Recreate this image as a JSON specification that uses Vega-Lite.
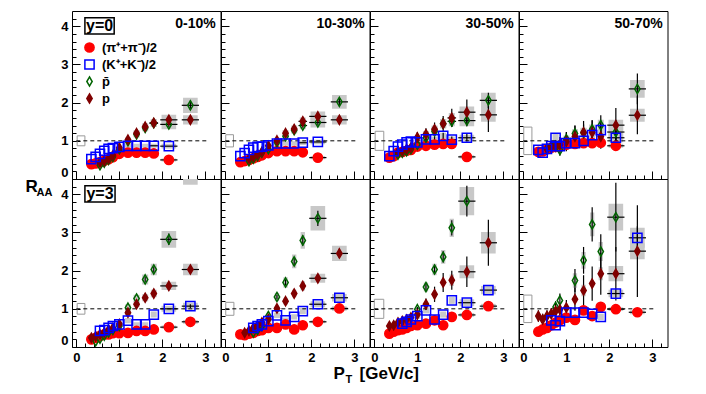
{
"$schema":"https://vega.github.io/schema/vega-lite/v6.json",
"padding":{"left":24,"top":10,"right":5,"bottom":5},
"background":"white",
"config":{"view":{"stroke":"black","strokeWidth":1},"axis":{"labelFont":"Liberation Sans","labelFontWeight":"bold","labelFontSize":13,"labelColor":"black","tickColor":"black","domainColor":"black","titleFont":"Liberation Sans","titleFontWeight":"bold","titleColor":"black","grid":false,"tickWidth":1},"font":"Liberation Sans"},
"datasets":{
"norm":[
{"r":0,"c":0,"xl":0.02,"xh":0.2,"yl":0.87,"yh":1.13},
{"r":0,"c":1,"xl":0.01,"xh":0.19,"yl":0.84,"yh":1.16},
{"r":0,"c":2,"xl":0.02,"xh":0.22,"yl":0.75,"yh":1.25},
{"r":0,"c":3,"xl":0.01,"xh":0.2,"yl":0.64,"yh":1.36},
{"r":1,"c":0,"xl":0.02,"xh":0.2,"yl":0.86,"yh":1.14},
{"r":1,"c":1,"xl":0.01,"xh":0.2,"yl":0.83,"yh":1.17},
{"r":1,"c":2,"xl":0.0,"xh":0.22,"yl":0.75,"yh":1.25},
{"r":1,"c":3,"xl":0.01,"xh":0.2,"yl":0.64,"yh":1.36}
],
"pts":[
{"r":0,"c":0,"s":"pi","x":0.35,"y":0.39},
{"r":0,"c":0,"s":"pi","x":0.45,"y":0.41},
{"r":0,"c":0,"s":"pi","x":0.55,"y":0.44},
{"r":0,"c":0,"s":"pi","x":0.65,"y":0.48},
{"r":0,"c":0,"s":"pi","x":0.75,"y":0.52},
{"r":0,"c":0,"s":"pi","x":0.85,"y":0.57},
{"r":0,"c":0,"s":"pi","x":1.0,"y":0.66},
{"r":0,"c":0,"s":"pi","x":1.2,"y":0.69},
{"r":0,"c":0,"s":"pi","x":1.4,"y":0.69},
{"r":0,"c":0,"s":"pi","x":1.6,"y":0.69},
{"r":0,"c":0,"s":"pi","x":1.8,"y":0.67,"ex":0.1},
{"r":0,"c":0,"s":"pi","x":2.15,"y":0.5,"ex":0.2,"ey":0.03,"xl":1.98,"xh":2.32,"yl":0.46,"yh":0.54},
{"r":0,"c":0,"s":"pbar","x":0.55,"y":0.36},
{"r":0,"c":0,"s":"pbar","x":0.65,"y":0.43},
{"r":0,"c":0,"s":"pbar","x":0.75,"y":0.5},
{"r":0,"c":0,"s":"pbar","x":0.85,"y":0.58},
{"r":0,"c":0,"s":"pbar","x":1.0,"y":0.78},
{"r":0,"c":0,"s":"pbar","x":1.2,"y":0.99,"xl":1.13,"xh":1.27,"yl":0.93,"yh":1.05},
{"r":0,"c":0,"s":"pbar","x":1.4,"y":1.17,"ey":0.04,"xl":1.33,"xh":1.47,"yl":1.09,"yh":1.25},
{"r":0,"c":0,"s":"pbar","x":1.6,"y":1.34,"ey":0.05,"xl":1.53,"xh":1.67,"yl":1.25,"yh":1.43},
{"r":0,"c":0,"s":"pbar","x":1.8,"y":1.46,"ex":0.1,"ey":0.05,"xl":1.73,"xh":1.87,"yl":1.36,"yh":1.56},
{"r":0,"c":0,"s":"pbar","x":2.15,"y":1.43,"ex":0.2,"ey":0.07,"xl":1.98,"xh":2.32,"yl":1.3,"yh":1.56},
{"r":0,"c":0,"s":"pbar","x":2.65,"y":1.93,"ex":0.2,"ey":0.12,"xl":2.48,"xh":2.82,"yl":1.73,"yh":2.13},
{"r":0,"c":0,"s":"p","x":0.55,"y":0.43},
{"r":0,"c":0,"s":"p","x":0.65,"y":0.47},
{"r":0,"c":0,"s":"p","x":0.75,"y":0.53},
{"r":0,"c":0,"s":"p","x":0.85,"y":0.62},
{"r":0,"c":0,"s":"p","x":1.0,"y":0.82},
{"r":0,"c":0,"s":"p","x":1.2,"y":1.03,"xl":1.13,"xh":1.27,"yl":0.97,"yh":1.09},
{"r":0,"c":0,"s":"p","x":1.4,"y":1.2,"ey":0.04,"xl":1.33,"xh":1.47,"yl":1.12,"yh":1.28},
{"r":0,"c":0,"s":"p","x":1.6,"y":1.37,"ey":0.05,"xl":1.53,"xh":1.67,"yl":1.28,"yh":1.46},
{"r":0,"c":0,"s":"p","x":1.8,"y":1.47,"ex":0.1,"ey":0.05,"xl":1.73,"xh":1.87,"yl":1.37,"yh":1.57},
{"r":0,"c":0,"s":"p","x":2.15,"y":1.55,"ex":0.2,"ey":0.07,"xl":1.98,"xh":2.32,"yl":1.42,"yh":1.68},
{"r":0,"c":0,"s":"p","x":2.65,"y":1.55,"ex":0.2,"ey":0.08,"xl":2.48,"xh":2.82,"yl":1.43,"yh":1.67},
{"r":0,"c":0,"s":"K","x":0.35,"y":0.52},
{"r":0,"c":0,"s":"K","x":0.45,"y":0.58},
{"r":0,"c":0,"s":"K","x":0.55,"y":0.66},
{"r":0,"c":0,"s":"K","x":0.65,"y":0.74},
{"r":0,"c":0,"s":"K","x":0.75,"y":0.79},
{"r":0,"c":0,"s":"K","x":0.85,"y":0.81},
{"r":0,"c":0,"s":"K","x":1.0,"y":0.84},
{"r":0,"c":0,"s":"K","x":1.2,"y":0.87,"xl":1.13,"xh":1.27,"yl":0.82,"yh":0.92},
{"r":0,"c":0,"s":"K","x":1.4,"y":0.87,"xl":1.33,"xh":1.47,"yl":0.82,"yh":0.92},
{"r":0,"c":0,"s":"K","x":1.6,"y":0.87,"xl":1.53,"xh":1.67,"yl":0.82,"yh":0.92},
{"r":0,"c":0,"s":"K","x":1.8,"y":0.87,"ex":0.1,"xl":1.73,"xh":1.87,"yl":0.82,"yh":0.92},
{"r":0,"c":0,"s":"K","x":2.15,"y":0.86,"ex":0.2,"xl":1.98,"xh":2.32,"yl":0.8,"yh":0.92},

{"r":0,"c":1,"s":"pi","x":0.35,"y":0.44},
{"r":0,"c":1,"s":"pi","x":0.45,"y":0.47},
{"r":0,"c":1,"s":"pi","x":0.55,"y":0.5},
{"r":0,"c":1,"s":"pi","x":0.65,"y":0.54},
{"r":0,"c":1,"s":"pi","x":0.75,"y":0.58},
{"r":0,"c":1,"s":"pi","x":0.85,"y":0.62},
{"r":0,"c":1,"s":"pi","x":1.0,"y":0.68},
{"r":0,"c":1,"s":"pi","x":1.2,"y":0.73},
{"r":0,"c":1,"s":"pi","x":1.4,"y":0.73},
{"r":0,"c":1,"s":"pi","x":1.6,"y":0.73},
{"r":0,"c":1,"s":"pi","x":1.8,"y":0.7,"ex":0.1},
{"r":0,"c":1,"s":"pi","x":2.15,"y":0.56,"ex":0.2,"ey":0.03,"xl":1.98,"xh":2.32,"yl":0.52,"yh":0.6},
{"r":0,"c":1,"s":"pbar","x":0.55,"y":0.47},
{"r":0,"c":1,"s":"pbar","x":0.65,"y":0.53},
{"r":0,"c":1,"s":"pbar","x":0.75,"y":0.6},
{"r":0,"c":1,"s":"pbar","x":0.85,"y":0.69},
{"r":0,"c":1,"s":"pbar","x":1.0,"y":0.78},
{"r":0,"c":1,"s":"pbar","x":1.2,"y":0.96,"xl":1.13,"xh":1.27,"yl":0.89,"yh":1.03},
{"r":0,"c":1,"s":"pbar","x":1.4,"y":1.12,"ey":0.04,"xl":1.33,"xh":1.47,"yl":1.04,"yh":1.2},
{"r":0,"c":1,"s":"pbar","x":1.6,"y":1.28,"ey":0.05,"xl":1.53,"xh":1.67,"yl":1.19,"yh":1.37},
{"r":0,"c":1,"s":"pbar","x":1.8,"y":1.4,"ex":0.1,"ey":0.06,"xl":1.73,"xh":1.87,"yl":1.3,"yh":1.5},
{"r":0,"c":1,"s":"pbar","x":2.15,"y":1.48,"ex":0.2,"ey":0.07,"xl":1.98,"xh":2.32,"yl":1.35,"yh":1.61},
{"r":0,"c":1,"s":"pbar","x":2.65,"y":2.02,"ex":0.2,"ey":0.1,"xl":2.48,"xh":2.82,"yl":1.84,"yh":2.2},
{"r":0,"c":1,"s":"p","x":0.55,"y":0.53},
{"r":0,"c":1,"s":"p","x":0.65,"y":0.58},
{"r":0,"c":1,"s":"p","x":0.75,"y":0.64},
{"r":0,"c":1,"s":"p","x":0.85,"y":0.71},
{"r":0,"c":1,"s":"p","x":1.0,"y":0.87},
{"r":0,"c":1,"s":"p","x":1.2,"y":1.01,"xl":1.13,"xh":1.27,"yl":0.94,"yh":1.08},
{"r":0,"c":1,"s":"p","x":1.4,"y":1.2,"ey":0.04,"xl":1.33,"xh":1.47,"yl":1.12,"yh":1.28},
{"r":0,"c":1,"s":"p","x":1.6,"y":1.31,"ey":0.05,"xl":1.53,"xh":1.67,"yl":1.22,"yh":1.4},
{"r":0,"c":1,"s":"p","x":1.8,"y":1.51,"ex":0.1,"ey":0.06,"xl":1.73,"xh":1.87,"yl":1.41,"yh":1.61},
{"r":0,"c":1,"s":"p","x":2.15,"y":1.64,"ex":0.2,"ey":0.08,"xl":1.98,"xh":2.32,"yl":1.51,"yh":1.77},
{"r":0,"c":1,"s":"p","x":2.65,"y":1.55,"ex":0.2,"ey":0.08,"xl":2.48,"xh":2.82,"yl":1.43,"yh":1.67},
{"r":0,"c":1,"s":"K","x":0.35,"y":0.6},
{"r":0,"c":1,"s":"K","x":0.45,"y":0.68},
{"r":0,"c":1,"s":"K","x":0.55,"y":0.76},
{"r":0,"c":1,"s":"K","x":0.65,"y":0.82},
{"r":0,"c":1,"s":"K","x":0.75,"y":0.84},
{"r":0,"c":1,"s":"K","x":0.85,"y":0.85},
{"r":0,"c":1,"s":"K","x":1.0,"y":0.88},
{"r":0,"c":1,"s":"K","x":1.2,"y":0.93,"xl":1.13,"xh":1.27,"yl":0.87,"yh":0.99},
{"r":0,"c":1,"s":"K","x":1.4,"y":0.93,"xl":1.33,"xh":1.47,"yl":0.87,"yh":0.99},
{"r":0,"c":1,"s":"K","x":1.6,"y":0.93,"xl":1.53,"xh":1.67,"yl":0.87,"yh":0.99},
{"r":0,"c":1,"s":"K","x":1.8,"y":0.95,"ex":0.1,"xl":1.73,"xh":1.87,"yl":0.89,"yh":1.01},
{"r":0,"c":1,"s":"K","x":2.15,"y":0.97,"ex":0.2,"xl":1.98,"xh":2.32,"yl":0.91,"yh":1.03},

{"r":0,"c":2,"s":"pi","x":0.35,"y":0.56},
{"r":0,"c":2,"s":"pi","x":0.45,"y":0.6},
{"r":0,"c":2,"s":"pi","x":0.55,"y":0.69},
{"r":0,"c":2,"s":"pi","x":0.65,"y":0.71},
{"r":0,"c":2,"s":"pi","x":0.75,"y":0.74},
{"r":0,"c":2,"s":"pi","x":0.85,"y":0.76},
{"r":0,"c":2,"s":"pi","x":1.0,"y":0.85},
{"r":0,"c":2,"s":"pi","x":1.2,"y":0.87},
{"r":0,"c":2,"s":"pi","x":1.4,"y":0.9},
{"r":0,"c":2,"s":"pi","x":1.6,"y":0.92},
{"r":0,"c":2,"s":"pi","x":1.8,"y":0.92,"ex":0.1},
{"r":0,"c":2,"s":"pi","x":2.15,"y":0.58,"ex":0.2,"ey":0.03,"xl":1.98,"xh":2.32,"yl":0.54,"yh":0.62},
{"r":0,"c":2,"s":"pbar","x":0.55,"y":0.64},
{"r":0,"c":2,"s":"pbar","x":0.65,"y":0.69},
{"r":0,"c":2,"s":"pbar","x":0.75,"y":0.73},
{"r":0,"c":2,"s":"pbar","x":0.85,"y":0.78,"ey":0.05},
{"r":0,"c":2,"s":"pbar","x":1.0,"y":0.9,"ey":0.08},
{"r":0,"c":2,"s":"pbar","x":1.2,"y":1.08,"ey":0.1,"xl":1.13,"xh":1.27,"yl":1.0,"yh":1.16},
{"r":0,"c":2,"s":"pbar","x":1.4,"y":1.25,"ey":0.12,"xl":1.33,"xh":1.47,"yl":1.15,"yh":1.35},
{"r":0,"c":2,"s":"pbar","x":1.6,"y":1.45,"ey":0.14,"xl":1.53,"xh":1.67,"yl":1.33,"yh":1.57},
{"r":0,"c":2,"s":"pbar","x":1.8,"y":1.51,"ex":0.1,"ey":0.15,"xl":1.73,"xh":1.87,"yl":1.38,"yh":1.64},
{"r":0,"c":2,"s":"pbar","x":2.15,"y":1.53,"ex":0.2,"ey":0.15,"xl":1.98,"xh":2.32,"yl":1.38,"yh":1.68},
{"r":0,"c":2,"s":"pbar","x":2.65,"y":2.06,"ex":0.2,"ey":0.2,"xl":2.48,"xh":2.82,"yl":1.86,"yh":2.26},
{"r":0,"c":2,"s":"p","x":0.55,"y":0.71,"ey":0.05},
{"r":0,"c":2,"s":"p","x":0.65,"y":0.73,"ey":0.06},
{"r":0,"c":2,"s":"p","x":0.75,"y":0.78,"ey":0.07},
{"r":0,"c":2,"s":"p","x":0.85,"y":0.82,"ey":0.08},
{"r":0,"c":2,"s":"p","x":1.0,"y":1.09,"ey":0.14},
{"r":0,"c":2,"s":"p","x":1.2,"y":1.17,"ey":0.16,"xl":1.13,"xh":1.27,"yl":1.08,"yh":1.26},
{"r":0,"c":2,"s":"p","x":1.4,"y":1.3,"ey":0.18,"xl":1.33,"xh":1.47,"yl":1.2,"yh":1.4},
{"r":0,"c":2,"s":"p","x":1.6,"y":1.45,"ey":0.2,"xl":1.53,"xh":1.67,"yl":1.33,"yh":1.57},
{"r":0,"c":2,"s":"p","x":1.8,"y":1.6,"ex":0.1,"ey":0.24,"xl":1.73,"xh":1.87,"yl":1.47,"yh":1.73},
{"r":0,"c":2,"s":"p","x":2.15,"y":1.75,"ex":0.2,"ey":0.33,"xl":1.98,"xh":2.32,"yl":1.6,"yh":1.9},
{"r":0,"c":2,"s":"p","x":2.65,"y":1.68,"ex":0.2,"ey":0.45,"xl":2.48,"xh":2.82,"yl":1.5,"yh":1.86},
{"r":0,"c":2,"s":"K","x":0.35,"y":0.6},
{"r":0,"c":2,"s":"K","x":0.45,"y":0.73},
{"r":0,"c":2,"s":"K","x":0.55,"y":0.85},
{"r":0,"c":2,"s":"K","x":0.65,"y":0.9},
{"r":0,"c":2,"s":"K","x":0.75,"y":0.96},
{"r":0,"c":2,"s":"K","x":0.85,"y":0.98},
{"r":0,"c":2,"s":"K","x":1.0,"y":0.96,"ey":0.05},
{"r":0,"c":2,"s":"K","x":1.2,"y":1.04,"ey":0.06,"xl":1.13,"xh":1.27,"yl":0.97,"yh":1.11},
{"r":0,"c":2,"s":"K","x":1.4,"y":1.04,"ey":0.07,"xl":1.33,"xh":1.47,"yl":0.97,"yh":1.11},
{"r":0,"c":2,"s":"K","x":1.6,"y":1.13,"ey":0.08,"xl":1.53,"xh":1.67,"yl":1.05,"yh":1.21},
{"r":0,"c":2,"s":"K","x":1.8,"y":1.03,"ex":0.1,"ey":0.08,"xl":1.73,"xh":1.87,"yl":0.95,"yh":1.11},
{"r":0,"c":2,"s":"K","x":2.15,"y":1.08,"ex":0.2,"ey":0.1,"xl":1.98,"xh":2.32,"yl":1.0,"yh":1.16},

{"r":0,"c":3,"s":"pi","x":0.35,"y":0.71,"ey":0.04},
{"r":0,"c":3,"s":"pi","x":0.45,"y":0.72,"ey":0.04},
{"r":0,"c":3,"s":"pi","x":0.55,"y":0.78},
{"r":0,"c":3,"s":"pi","x":0.65,"y":0.82},
{"r":0,"c":3,"s":"pi","x":0.75,"y":0.84},
{"r":0,"c":3,"s":"pi","x":0.85,"y":0.86},
{"r":0,"c":3,"s":"pi","x":1.0,"y":0.9},
{"r":0,"c":3,"s":"pi","x":1.2,"y":0.92},
{"r":0,"c":3,"s":"pi","x":1.4,"y":0.94},
{"r":0,"c":3,"s":"pi","x":1.6,"y":0.94},
{"r":0,"c":3,"s":"pi","x":1.8,"y":0.95,"ex":0.1},
{"r":0,"c":3,"s":"pi","x":2.15,"y":0.87,"ex":0.2,"ey":0.04,"xl":1.98,"xh":2.32,"yl":0.82,"yh":0.92},
{"r":0,"c":3,"s":"pbar","x":0.55,"y":0.79,"ey":0.1},
{"r":0,"c":3,"s":"pbar","x":0.65,"y":0.86,"ey":0.12},
{"r":0,"c":3,"s":"pbar","x":0.75,"y":0.87,"ey":0.13},
{"r":0,"c":3,"s":"pbar","x":0.85,"y":0.76,"ey":0.15},
{"r":0,"c":3,"s":"pbar","x":1.0,"y":1.04,"ey":0.18,"xl":0.93,"xh":1.07,"yl":0.94,"yh":1.14},
{"r":0,"c":3,"s":"pbar","x":1.2,"y":1.19,"ey":0.2,"xl":1.13,"xh":1.27,"yl":1.08,"yh":1.3},
{"r":0,"c":3,"s":"pbar","x":1.4,"y":1.21,"ey":0.22,"xl":1.33,"xh":1.47,"yl":1.09,"yh":1.33},
{"r":0,"c":3,"s":"pbar","x":1.6,"y":1.3,"ey":0.24,"xl":1.53,"xh":1.67,"yl":1.17,"yh":1.43},
{"r":0,"c":3,"s":"pbar","x":1.8,"y":1.41,"ey":0.26,"xl":1.73,"xh":1.87,"yl":1.27,"yh":1.55},
{"r":0,"c":3,"s":"pbar","x":2.15,"y":1.23,"ex":0.2,"ey":0.3,"xl":1.98,"xh":2.32,"yl":1.08,"yh":1.38},
{"r":0,"c":3,"s":"pbar","x":2.65,"y":2.36,"ex":0.2,"ey":0.4,"xl":2.48,"xh":2.82,"yl":2.13,"yh":2.59},
{"r":0,"c":3,"s":"p","x":0.55,"y":0.79,"ey":0.12},
{"r":0,"c":3,"s":"p","x":0.65,"y":0.82,"ey":0.14},
{"r":0,"c":3,"s":"p","x":0.75,"y":0.86,"ey":0.16},
{"r":0,"c":3,"s":"p","x":0.85,"y":0.9,"ey":0.2},
{"r":0,"c":3,"s":"p","x":1.0,"y":0.98,"ey":0.25},
{"r":0,"c":3,"s":"p","x":1.2,"y":1.11,"ey":0.3,"xl":1.13,"xh":1.27,"yl":1.0,"yh":1.22},
{"r":0,"c":3,"s":"p","x":1.4,"y":1.22,"ey":0.3,"xl":1.33,"xh":1.47,"yl":1.1,"yh":1.34},
{"r":0,"c":3,"s":"p","x":1.6,"y":1.22,"ey":0.32,"xl":1.53,"xh":1.67,"yl":1.1,"yh":1.34},
{"r":0,"c":3,"s":"p","x":1.8,"y":1.11,"ey":0.32,"xl":1.73,"xh":1.87,"yl":1.0,"yh":1.22},
{"r":0,"c":3,"s":"p","x":2.15,"y":1.41,"ex":0.2,"ey":0.45,"xl":1.98,"xh":2.32,"yl":1.27,"yh":1.55},
{"r":0,"c":3,"s":"p","x":2.65,"y":1.67,"ex":0.2,"ey":0.5,"xl":2.48,"xh":2.82,"yl":1.5,"yh":1.84},
{"r":0,"c":3,"s":"K","x":0.35,"y":0.76,"xl":0.28,"xh":0.42,"yl":0.68,"yh":0.84},
{"r":0,"c":3,"s":"K","x":0.45,"y":0.69,"xl":0.38,"xh":0.52,"yl":0.62,"yh":0.76},
{"r":0,"c":3,"s":"K","x":0.55,"y":0.79},
{"r":0,"c":3,"s":"K","x":0.65,"y":0.86},
{"r":0,"c":3,"s":"K","x":0.75,"y":1.08,"xl":0.68,"xh":0.82,"yl":0.98,"yh":1.18},
{"r":0,"c":3,"s":"K","x":0.85,"y":0.86},
{"r":0,"c":3,"s":"K","x":1.0,"y":0.94,"ey":0.1,"xl":0.93,"xh":1.07,"yl":0.86,"yh":1.02},
{"r":0,"c":3,"s":"K","x":1.2,"y":0.94,"ey":0.12,"xl":1.13,"xh":1.27,"yl":0.86,"yh":1.02},
{"r":0,"c":3,"s":"K","x":1.4,"y":1.0,"ey":0.13,"xl":1.33,"xh":1.47,"yl":0.91,"yh":1.09},
{"r":0,"c":3,"s":"K","x":1.6,"y":1.15,"ey":0.15,"xl":1.53,"xh":1.67,"yl":1.05,"yh":1.25},
{"r":0,"c":3,"s":"K","x":1.8,"y":1.28,"ey":0.18,"xl":1.73,"xh":1.87,"yl":1.17,"yh":1.39},
{"r":0,"c":3,"s":"K","x":2.15,"y":1.08,"ex":0.2,"ey":0.2,"xl":1.98,"xh":2.32,"yl":0.96,"yh":1.2},

{"r":1,"c":0,"s":"pi","x":0.35,"y":0.2},
{"r":1,"c":0,"s":"pi","x":0.45,"y":0.24},
{"r":1,"c":0,"s":"pi","x":0.55,"y":0.29},
{"r":1,"c":0,"s":"pi","x":0.65,"y":0.33},
{"r":1,"c":0,"s":"pi","x":0.75,"y":0.33},
{"r":1,"c":0,"s":"pi","x":0.85,"y":0.36},
{"r":1,"c":0,"s":"pi","x":1.0,"y":0.36},
{"r":1,"c":0,"s":"pi","x":1.2,"y":0.37},
{"r":1,"c":0,"s":"pi","x":1.4,"y":0.42},
{"r":1,"c":0,"s":"pi","x":1.6,"y":0.42},
{"r":1,"c":0,"s":"pi","x":1.8,"y":0.46},
{"r":1,"c":0,"s":"pi","x":2.15,"y":0.52,"ex":0.2,"xl":1.98,"xh":2.32,"yl":0.48,"yh":0.56},
{"r":1,"c":0,"s":"pi","x":2.65,"y":0.66,"ex":0.2,"xl":2.48,"xh":2.82,"yl":0.61,"yh":0.71},
{"r":1,"c":0,"s":"pbar","x":0.45,"y":0.15},
{"r":1,"c":0,"s":"pbar","x":0.55,"y":0.22},
{"r":1,"c":0,"s":"pbar","x":0.65,"y":0.3},
{"r":1,"c":0,"s":"pbar","x":0.75,"y":0.38},
{"r":1,"c":0,"s":"pbar","x":0.85,"y":0.45},
{"r":1,"c":0,"s":"pbar","x":1.0,"y":0.55},
{"r":1,"c":0,"s":"pbar","x":1.2,"y":1.03,"xl":1.13,"xh":1.27,"yl":0.95,"yh":1.11},
{"r":1,"c":0,"s":"pbar","x":1.4,"y":1.27,"xl":1.33,"xh":1.47,"yl":1.17,"yh":1.37},
{"r":1,"c":0,"s":"pbar","x":1.6,"y":1.77,"ey":0.07,"xl":1.53,"xh":1.67,"yl":1.64,"yh":1.9},
{"r":1,"c":0,"s":"pbar","x":1.8,"y":2.03,"ey":0.08,"xl":1.73,"xh":1.87,"yl":1.88,"yh":2.18},
{"r":1,"c":0,"s":"pbar","x":2.15,"y":2.82,"ex":0.2,"ey":0.15,"xl":1.98,"xh":2.32,"yl":2.6,"yh":3.04},
{"r":1,"c":0,"s":"pbar","x":2.65,"y":4.6,"xl":2.48,"xh":2.82,"yl":4.25,"yh":4.95},
{"r":1,"c":0,"s":"p","x":0.35,"y":0.24},
{"r":1,"c":0,"s":"p","x":0.45,"y":0.28},
{"r":1,"c":0,"s":"p","x":0.55,"y":0.33},
{"r":1,"c":0,"s":"p","x":0.65,"y":0.38},
{"r":1,"c":0,"s":"p","x":0.75,"y":0.45},
{"r":1,"c":0,"s":"p","x":0.85,"y":0.5},
{"r":1,"c":0,"s":"p","x":1.0,"y":0.6},
{"r":1,"c":0,"s":"p","x":1.2,"y":0.9,"xl":1.13,"xh":1.27,"yl":0.83,"yh":0.97},
{"r":1,"c":0,"s":"p","x":1.4,"y":1.12,"xl":1.33,"xh":1.47,"yl":1.04,"yh":1.2},
{"r":1,"c":0,"s":"p","x":1.6,"y":1.29,"ey":0.05,"xl":1.53,"xh":1.67,"yl":1.2,"yh":1.38},
{"r":1,"c":0,"s":"p","x":1.8,"y":1.4,"ey":0.05,"xl":1.73,"xh":1.87,"yl":1.3,"yh":1.5},
{"r":1,"c":0,"s":"p","x":2.15,"y":1.6,"ex":0.2,"ey":0.06,"xl":1.98,"xh":2.32,"yl":1.49,"yh":1.71},
{"r":1,"c":0,"s":"p","x":2.65,"y":2.03,"ex":0.2,"ey":0.08,"xl":2.48,"xh":2.82,"yl":1.88,"yh":2.18},
{"r":1,"c":0,"s":"K","x":0.55,"y":0.42},
{"r":1,"c":0,"s":"K","x":0.65,"y":0.44},
{"r":1,"c":0,"s":"K","x":0.75,"y":0.5},
{"r":1,"c":0,"s":"K","x":0.85,"y":0.55},
{"r":1,"c":0,"s":"K","x":1.0,"y":0.59,"xl":0.93,"xh":1.07,"yl":0.53,"yh":0.65},
{"r":1,"c":0,"s":"K","x":1.2,"y":0.69,"xl":1.13,"xh":1.27,"yl":0.62,"yh":0.76},
{"r":1,"c":0,"s":"K","x":1.4,"y":0.59,"xl":1.33,"xh":1.47,"yl":0.53,"yh":0.65},
{"r":1,"c":0,"s":"K","x":1.6,"y":0.59,"xl":1.53,"xh":1.67,"yl":0.53,"yh":0.65},
{"r":1,"c":0,"s":"K","x":1.8,"y":0.85,"xl":1.73,"xh":1.87,"yl":0.77,"yh":0.93},
{"r":1,"c":0,"s":"K","x":2.15,"y":1.0,"ex":0.2,"xl":1.98,"xh":2.32,"yl":0.92,"yh":1.08},
{"r":1,"c":0,"s":"K","x":2.65,"y":1.07,"ex":0.2,"ey":0.05,"xl":2.48,"xh":2.82,"yl":0.98,"yh":1.16},

{"r":1,"c":1,"s":"pi","x":0.35,"y":0.33},
{"r":1,"c":1,"s":"pi","x":0.45,"y":0.31},
{"r":1,"c":1,"s":"pi","x":0.55,"y":0.35},
{"r":1,"c":1,"s":"pi","x":0.65,"y":0.37},
{"r":1,"c":1,"s":"pi","x":0.75,"y":0.42},
{"r":1,"c":1,"s":"pi","x":0.85,"y":0.44},
{"r":1,"c":1,"s":"pi","x":1.0,"y":0.5},
{"r":1,"c":1,"s":"pi","x":1.2,"y":0.5},
{"r":1,"c":1,"s":"pi","x":1.4,"y":0.59},
{"r":1,"c":1,"s":"pi","x":1.6,"y":0.46},
{"r":1,"c":1,"s":"pi","x":1.8,"y":0.57},
{"r":1,"c":1,"s":"pi","x":2.15,"y":0.66,"ex":0.2,"xl":1.98,"xh":2.32,"yl":0.62,"yh":0.7},
{"r":1,"c":1,"s":"pi","x":2.65,"y":1.01,"ex":0.2,"xl":2.48,"xh":2.82,"yl":0.95,"yh":1.07},
{"r":1,"c":1,"s":"pbar","x":0.65,"y":0.38},
{"r":1,"c":1,"s":"pbar","x":0.75,"y":0.45},
{"r":1,"c":1,"s":"pbar","x":0.85,"y":0.55},
{"r":1,"c":1,"s":"pbar","x":1.0,"y":0.81,"xl":0.95,"xh":1.05,"yl":0.74,"yh":0.88},
{"r":1,"c":1,"s":"pbar","x":1.2,"y":1.31,"ey":0.06,"xl":1.15,"xh":1.25,"yl":1.2,"yh":1.42},
{"r":1,"c":1,"s":"pbar","x":1.4,"y":1.69,"ey":0.08,"xl":1.35,"xh":1.45,"yl":1.55,"yh":1.83},
{"r":1,"c":1,"s":"pbar","x":1.6,"y":2.24,"ey":0.1,"xl":1.55,"xh":1.65,"yl":2.06,"yh":2.42},
{"r":1,"c":1,"s":"pbar","x":1.8,"y":2.79,"ey":0.14,"xl":1.75,"xh":1.85,"yl":2.57,"yh":3.01},
{"r":1,"c":1,"s":"pbar","x":2.15,"y":3.37,"ex":0.2,"ey":0.2,"xl":1.98,"xh":2.32,"yl":3.05,"yh":3.69},
{"r":1,"c":1,"s":"p","x":0.45,"y":0.37},
{"r":1,"c":1,"s":"p","x":0.55,"y":0.42},
{"r":1,"c":1,"s":"p","x":0.65,"y":0.5},
{"r":1,"c":1,"s":"p","x":0.75,"y":0.57},
{"r":1,"c":1,"s":"p","x":0.85,"y":0.64},
{"r":1,"c":1,"s":"p","x":1.0,"y":0.73},
{"r":1,"c":1,"s":"p","x":1.2,"y":1.01,"xl":1.15,"xh":1.25,"yl":0.94,"yh":1.08},
{"r":1,"c":1,"s":"p","x":1.4,"y":1.2,"xl":1.35,"xh":1.45,"yl":1.11,"yh":1.29},
{"r":1,"c":1,"s":"p","x":1.6,"y":1.4,"xl":1.55,"xh":1.65,"yl":1.3,"yh":1.5},
{"r":1,"c":1,"s":"p","x":1.8,"y":1.6,"ey":0.06,"xl":1.75,"xh":1.85,"yl":1.48,"yh":1.72},
{"r":1,"c":1,"s":"p","x":2.15,"y":1.8,"ex":0.2,"ey":0.07,"xl":1.98,"xh":2.32,"yl":1.68,"yh":1.92},
{"r":1,"c":1,"s":"p","x":2.65,"y":2.45,"ex":0.2,"ey":0.12,"xl":2.48,"xh":2.82,"yl":2.25,"yh":2.65},
{"r":1,"c":1,"s":"K","x":0.65,"y":0.5},
{"r":1,"c":1,"s":"K","x":0.75,"y":0.55},
{"r":1,"c":1,"s":"K","x":0.85,"y":0.59},
{"r":1,"c":1,"s":"K","x":1.0,"y":0.68,"xl":0.93,"xh":1.07,"yl":0.62,"yh":0.74},
{"r":1,"c":1,"s":"K","x":1.2,"y":0.83,"xl":1.13,"xh":1.27,"yl":0.76,"yh":0.9},
{"r":1,"c":1,"s":"K","x":1.4,"y":0.7,"xl":1.33,"xh":1.47,"yl":0.63,"yh":0.77},
{"r":1,"c":1,"s":"K","x":1.6,"y":0.79,"xl":1.53,"xh":1.67,"yl":0.72,"yh":0.86},
{"r":1,"c":1,"s":"K","x":1.8,"y":0.94,"xl":1.73,"xh":1.87,"yl":0.86,"yh":1.02},
{"r":1,"c":1,"s":"K","x":2.15,"y":1.12,"ex":0.2,"xl":1.98,"xh":2.32,"yl":1.04,"yh":1.2},
{"r":1,"c":1,"s":"K","x":2.65,"y":1.29,"ex":0.2,"xl":2.48,"xh":2.82,"yl":1.19,"yh":1.39},

{"r":1,"c":2,"s":"pi","x":0.35,"y":0.35},
{"r":1,"c":2,"s":"pi","x":0.45,"y":0.4},
{"r":1,"c":2,"s":"pi","x":0.55,"y":0.44},
{"r":1,"c":2,"s":"pi","x":0.65,"y":0.46},
{"r":1,"c":2,"s":"pi","x":0.75,"y":0.5},
{"r":1,"c":2,"s":"pi","x":0.85,"y":0.55},
{"r":1,"c":2,"s":"pi","x":1.0,"y":0.57},
{"r":1,"c":2,"s":"pi","x":1.2,"y":0.61},
{"r":1,"c":2,"s":"pi","x":1.4,"y":0.7},
{"r":1,"c":2,"s":"pi","x":1.6,"y":0.57},
{"r":1,"c":2,"s":"pi","x":1.8,"y":0.79},
{"r":1,"c":2,"s":"pi","x":2.15,"y":0.84,"ex":0.2,"xl":1.98,"xh":2.32,"yl":0.79,"yh":0.89},
{"r":1,"c":2,"s":"pi","x":2.65,"y":1.07,"ex":0.2,"xl":2.48,"xh":2.82,"yl":1.01,"yh":1.13},
{"r":1,"c":2,"s":"pbar","x":1.0,"y":0.99,"ey":0.06},
{"r":1,"c":2,"s":"pbar","x":1.2,"y":1.57,"ey":0.1,"xl":1.15,"xh":1.25,"yl":1.45,"yh":1.69},
{"r":1,"c":2,"s":"pbar","x":1.4,"y":2.03,"ey":0.12,"xl":1.35,"xh":1.45,"yl":1.88,"yh":2.18},
{"r":1,"c":2,"s":"pbar","x":1.6,"y":2.36,"ey":0.15,"xl":1.55,"xh":1.65,"yl":2.18,"yh":2.54},
{"r":1,"c":2,"s":"pbar","x":1.8,"y":3.12,"ey":0.2,"xl":1.75,"xh":1.85,"yl":2.88,"yh":3.36},
{"r":1,"c":2,"s":"pbar","x":2.15,"y":3.82,"ex":0.2,"ey":0.4,"xl":1.98,"xh":2.32,"yl":3.45,"yh":4.19},
{"r":1,"c":2,"s":"p","x":0.35,"y":0.55},
{"r":1,"c":2,"s":"p","x":0.45,"y":0.57},
{"r":1,"c":2,"s":"p","x":0.55,"y":0.64},
{"r":1,"c":2,"s":"p","x":0.65,"y":0.68},
{"r":1,"c":2,"s":"p","x":0.75,"y":0.72},
{"r":1,"c":2,"s":"p","x":0.85,"y":0.77},
{"r":1,"c":2,"s":"p","x":1.0,"y":0.85,"ey":0.08},
{"r":1,"c":2,"s":"p","x":1.2,"y":1.12,"ey":0.15},
{"r":1,"c":2,"s":"p","x":1.4,"y":1.38,"ey":0.2},
{"r":1,"c":2,"s":"p","x":1.6,"y":1.69,"ey":0.25},
{"r":1,"c":2,"s":"p","x":1.8,"y":1.75,"ey":0.25,"xl":1.75,"xh":1.85,"yl":1.6,"yh":1.9},
{"r":1,"c":2,"s":"p","x":2.15,"y":1.97,"ex":0.2,"ey":0.4,"xl":1.98,"xh":2.32,"yl":1.8,"yh":2.14},
{"r":1,"c":2,"s":"p","x":2.65,"y":2.73,"ex":0.2,"ey":0.6,"xl":2.48,"xh":2.82,"yl":2.45,"yh":3.01},
{"r":1,"c":2,"s":"K","x":0.65,"y":0.61},
{"r":1,"c":2,"s":"K","x":0.75,"y":0.66},
{"r":1,"c":2,"s":"K","x":0.85,"y":0.72},
{"r":1,"c":2,"s":"K","x":1.0,"y":0.81,"xl":0.93,"xh":1.07,"yl":0.74,"yh":0.88},
{"r":1,"c":2,"s":"K","x":1.2,"y":0.96,"xl":1.13,"xh":1.27,"yl":0.88,"yh":1.04},
{"r":1,"c":2,"s":"K","x":1.4,"y":0.72,"xl":1.33,"xh":1.47,"yl":0.65,"yh":0.79},
{"r":1,"c":2,"s":"K","x":1.6,"y":0.85,"xl":1.53,"xh":1.67,"yl":0.77,"yh":0.93},
{"r":1,"c":2,"s":"K","x":1.8,"y":1.22,"xl":1.73,"xh":1.87,"yl":1.13,"yh":1.31},
{"r":1,"c":2,"s":"K","x":2.15,"y":1.16,"ex":0.2,"xl":1.98,"xh":2.32,"yl":1.07,"yh":1.25},
{"r":1,"c":2,"s":"K","x":2.65,"y":1.49,"ex":0.2,"xl":2.48,"xh":2.82,"yl":1.38,"yh":1.6},

{"r":1,"c":3,"s":"pi","x":0.35,"y":0.4},
{"r":1,"c":3,"s":"pi","x":0.45,"y":0.46},
{"r":1,"c":3,"s":"pi","x":0.55,"y":0.5},
{"r":1,"c":3,"s":"pi","x":0.65,"y":0.57},
{"r":1,"c":3,"s":"pi","x":0.75,"y":0.64},
{"r":1,"c":3,"s":"pi","x":0.85,"y":0.7},
{"r":1,"c":3,"s":"pi","x":1.0,"y":0.77},
{"r":1,"c":3,"s":"pi","x":1.2,"y":0.71},
{"r":1,"c":3,"s":"pi","x":1.4,"y":0.96},
{"r":1,"c":3,"s":"pi","x":1.6,"y":0.81},
{"r":1,"c":3,"s":"pi","x":1.8,"y":1.05},
{"r":1,"c":3,"s":"pi","x":2.15,"y":0.99,"ex":0.2,"xl":1.98,"xh":2.32,"yl":0.94,"yh":1.04},
{"r":1,"c":3,"s":"pi","x":2.65,"y":0.91,"ex":0.2,"xl":2.48,"xh":2.82,"yl":0.86,"yh":0.96},
{"r":1,"c":3,"s":"pbar","x":0.75,"y":1.05,"ey":0.15},
{"r":1,"c":3,"s":"pbar","x":0.85,"y":1.22,"ey":0.18},
{"r":1,"c":3,"s":"pbar","x":1.2,"y":1.74,"ey":0.3,"xl":1.15,"xh":1.25,"yl":1.55,"yh":1.93},
{"r":1,"c":3,"s":"pbar","x":1.4,"y":2.27,"ey":0.35,"xl":1.35,"xh":1.45,"yl":2.05,"yh":2.49},
{"r":1,"c":3,"s":"pbar","x":1.6,"y":3.21,"ey":0.45,"xl":1.55,"xh":1.65,"yl":2.9,"yh":3.52},
{"r":1,"c":3,"s":"pbar","x":1.8,"y":2.5,"ey":0.45,"xl":1.75,"xh":1.85,"yl":2.25,"yh":2.75},
{"r":1,"c":3,"s":"pbar","x":2.15,"y":3.4,"ex":0.2,"ey":0.9,"xl":1.98,"xh":2.32,"yl":3.05,"yh":3.75},
{"r":1,"c":3,"s":"p","x":0.35,"y":0.81,"ey":0.15},
{"r":1,"c":3,"s":"p","x":0.45,"y":0.72,"ey":0.15},
{"r":1,"c":3,"s":"p","x":0.55,"y":0.81,"ey":0.15},
{"r":1,"c":3,"s":"p","x":0.65,"y":0.87,"ey":0.15},
{"r":1,"c":3,"s":"p","x":0.75,"y":0.94,"ey":0.15},
{"r":1,"c":3,"s":"p","x":0.85,"y":0.98,"ey":0.18},
{"r":1,"c":3,"s":"p","x":1.0,"y":1.03,"ey":0.2},
{"r":1,"c":3,"s":"p","x":1.2,"y":1.25,"ey":0.3},
{"r":1,"c":3,"s":"p","x":1.4,"y":1.48,"ey":0.4,"xl":1.35,"xh":1.45,"yl":1.33,"yh":1.63},
{"r":1,"c":3,"s":"p","x":1.6,"y":1.66,"ey":0.45},
{"r":1,"c":3,"s":"p","x":1.8,"y":1.92,"ey":0.55,"xl":1.75,"xh":1.85,"yl":1.75,"yh":2.09},
{"r":1,"c":3,"s":"p","x":2.15,"y":1.92,"ex":0.2,"ey":0.7,"xl":1.98,"xh":2.32,"yl":1.72,"yh":2.12},
{"r":1,"c":3,"s":"p","x":2.65,"y":2.51,"ex":0.2,"ey":1.2,"xl":2.48,"xh":2.82,"yl":2.3,"yh":2.72},
{"r":1,"c":3,"s":"K","x":0.65,"y":0.7},
{"r":1,"c":3,"s":"K","x":0.75,"y":0.57},
{"r":1,"c":3,"s":"K","x":0.85,"y":0.68},
{"r":1,"c":3,"s":"K","x":1.0,"y":0.9},
{"r":1,"c":3,"s":"K","x":1.2,"y":0.9},
{"r":1,"c":3,"s":"K","x":1.4,"y":0.9},
{"r":1,"c":3,"s":"K","x":1.6,"y":0.87},
{"r":1,"c":3,"s":"K","x":1.8,"y":0.79,"xl":1.73,"xh":1.87,"yl":0.71,"yh":0.87},
{"r":1,"c":3,"s":"K","x":2.15,"y":1.4,"ex":0.2,"xl":1.98,"xh":2.32,"yl":1.3,"yh":1.5},
{"r":1,"c":3,"s":"K","x":2.65,"y":2.86,"ex":0.2,"ey":0.3,"xl":2.48,"xh":2.82,"yl":2.6,"yh":3.12}
]
},
"columns":4,
"spacing":0,
"bounds":"flush",
"concat":[
{"width":148.5,"height":168,"resolve":{"axis":{"x":"independent","y":"independent"}},"layer":[
 {"data":{"name":"norm"},"transform":[{"filter":"datum.r==0 && datum.c==0"}],"mark":{"type":"rect","fill":null,"stroke":"#9a9a9a","strokeWidth":1},
  "encoding":{"x":{"field":"xl","type":"quantitative","scale":{"domain":[-0.1,3.35],"nice":false,"zero":false},"axis":{"orient":"bottom","values":[0,1,2,3],"tickSize":-8,"labels":false,"domain":false,"title":null}},"x2":{"field":"xh"},
  "y":{"field":"yl","type":"quantitative","scale":{"domain":[0,4.4],"nice":false,"zero":false},"axis":{"orient":"left","values":[0,1,2,3,4],"tickSize":-8,"labelPadding":12,"labelFlush":true,"domain":false,"title":"R","titleAngle":0,"titleAlign":"left","titleBaseline":"alphabetic","titleX":-47,"titleY":180,"titleFontSize":17}},"y2":{"field":"yh"}}},
 {"data":{"name":"pts"},"transform":[{"filter":"datum.r==0 && datum.c==0 && isValid(datum.xl)"}],"mark":{"type":"rect","fill":"#c8c8c8","clip":true},
  "encoding":{"x":{"field":"xl","type":"quantitative","scale":{"domain":[-0.1,3.35],"nice":false,"zero":false},"axis":{"orient":"bottom","values":[0.2,0.4,0.6,0.8,1.2,1.4,1.6,1.8,2.2,2.4,2.6,2.8,3.2],"tickSize":-4,"labels":false,"domain":false,"title":null}},"x2":{"field":"xh"},
  "y":{"field":"yl","type":"quantitative","scale":{"domain":[0,4.4],"nice":false,"zero":false},"axis":{"orient":"left","values":[0.2,0.4,0.6,0.8,1.2,1.4,1.6,1.8,2.2,2.4,2.6,2.8,3.2,3.4,3.6,3.8,4.2],"tickSize":-4,"labels":false,"domain":false,"title":"AA","titleAngle":0,"titleAlign":"left","titleBaseline":"alphabetic","titleX":-36,"titleY":184,"titleFontSize":11}},"y2":{"field":"yh"}}},
 {"data":{"values":[{}]},"mark":{"type":"rule","strokeDash":[4,3],"color":"black","strokeWidth":1},
  "encoding":{"x":{"datum":0,"type":"quantitative","axis":null},"x2":{"datum":3.05},"y":{"datum":1,"type":"quantitative","axis":null}}},
 {"data":{"name":"pts"},"transform":[{"filter":"datum.r==0 && datum.c==0 && isValid(datum.ex)"}],"mark":{"type":"errorbar","color":"black","thickness":1.2},
  "encoding":{"x":{"field":"x","type":"quantitative","axis":null},"xError":{"field":"ex"},"y":{"field":"y","type":"quantitative","axis":null}}},
 {"data":{"name":"pts"},"transform":[{"filter":"datum.r==0 && datum.c==0 && isValid(datum.ey)"}],"mark":{"type":"errorbar","color":"black","thickness":1.2},
  "encoding":{"x":{"field":"x","type":"quantitative","axis":null},"y":{"field":"y","type":"quantitative","axis":null},"yError":{"field":"ey"}}},
 {"data":{"name":"pts"},"transform":[{"filter":"datum.r==0 && datum.c==0"}],"mark":{"type":"point","filled":true,"size":85,"strokeWidth":1.5,"opacity":1,"clip":true},
  "encoding":{"x":{"field":"x","type":"quantitative","axis":null},"y":{"field":"y","type":"quantitative","axis":null},
  "shape":{"field":"s","type":"nominal","scale":{"domain":["pi","K","pbar","p"],"range":["circle","square","M0,-1L0.58,0L0,1L-0.58,0Z","M0,-1L0.58,0L0,1L-0.58,0Z"]},"legend":{"title":null,"orient":"none","legendX":11,"legendY":30,"padding":0,"rowPadding":0,"symbolSize":85,"symbolStrokeWidth":1.5,"labelFont":"Liberation Sans","labelFontSize":13,"labelFontWeight":"bold","labelColor":"black","labelOffset":6,"labelExpr":"datum.label=='pi'?'(π⁺+π⁻)/2':datum.label=='K'?'(K⁺+K⁻)/2':datum.label=='pbar'?'p̄':'p'"}},
  "fill":{"field":"s","type":"nominal","scale":{"domain":["pi","K","pbar","p"],"range":["#ff0000","transparent","transparent","#800000"]},"legend":{"title":null,"orient":"none","legendX":11,"legendY":30,"padding":0,"rowPadding":0,"symbolSize":85,"symbolStrokeWidth":1.5,"labelFont":"Liberation Sans","labelFontSize":13,"labelFontWeight":"bold","labelColor":"black","labelOffset":6,"labelExpr":"datum.label=='pi'?'(π⁺+π⁻)/2':datum.label=='K'?'(K⁺+K⁻)/2':datum.label=='pbar'?'p̄':'p'"}},
  "stroke":{"field":"s","type":"nominal","scale":{"domain":["pi","K","pbar","p"],"range":["#ff0000","#0000ff","#006400","#800000"]},"legend":{"title":null,"orient":"none","legendX":11,"legendY":30,"padding":0,"rowPadding":0,"symbolSize":85,"symbolStrokeWidth":1.5,"labelFont":"Liberation Sans","labelFontSize":13,"labelFontWeight":"bold","labelColor":"black","labelOffset":6,"labelExpr":"datum.label=='pi'?'(π⁺+π⁻)/2':datum.label=='K'?'(K⁺+K⁻)/2':datum.label=='pbar'?'p̄':'p'"}}}},
 {"data":{"values":[{}]},"mark":{"type":"text","align":"right","baseline":"middle","font":"Liberation Sans","fontWeight":"bold","fontSize":14},
  "encoding":{"x":{"datum":3.24,"type":"quantitative","axis":null},"y":{"datum":4.05,"type":"quantitative","axis":null},"text":{"value":"0-10%"}}},
 {"data":{"values":[{}]},"mark":{"type":"rect","fill":null,"stroke":"black","strokeWidth":1.5},
  "encoding":{"x":{"datum":0.2,"type":"quantitative","axis":null},"x2":{"datum":0.88},"y":{"datum":4.22,"type":"quantitative","axis":null},"y2":{"datum":3.8}}},
 {"data":{"values":[{}]},"mark":{"type":"text","align":"center","baseline":"middle","font":"Liberation Sans","fontWeight":"bold","fontSize":16},
  "encoding":{"x":{"datum":0.54,"type":"quantitative","axis":null},"y":{"datum":4.01,"type":"quantitative","axis":null},"text":{"value":"y=0"}}}
]},
{"width":148.5,"height":168,"resolve":{"axis":{"x":"independent","y":"independent"}},"layer":[
 {"data":{"name":"norm"},"transform":[{"filter":"datum.r==0 && datum.c==1"}],"mark":{"type":"rect","fill":null,"stroke":"#9a9a9a","strokeWidth":1},
  "encoding":{"x":{"field":"xl","type":"quantitative","scale":{"domain":[-0.1,3.35],"nice":false,"zero":false},"axis":{"orient":"bottom","values":[0,1,2,3],"tickSize":-8,"labels":false,"domain":false,"title":null}},"x2":{"field":"xh"},
  "y":{"field":"yl","type":"quantitative","scale":{"domain":[0,4.4],"nice":false,"zero":false},"axis":{"orient":"left","values":[0,1,2,3,4],"tickSize":-8,"labels":false,"domain":false,"title":null}},"y2":{"field":"yh"}}},
 {"data":{"name":"pts"},"transform":[{"filter":"datum.r==0 && datum.c==1 && isValid(datum.xl)"}],"mark":{"type":"rect","fill":"#c8c8c8","clip":true},
  "encoding":{"x":{"field":"xl","type":"quantitative","scale":{"domain":[-0.1,3.35],"nice":false,"zero":false},"axis":{"orient":"bottom","values":[0.2,0.4,0.6,0.8,1.2,1.4,1.6,1.8,2.2,2.4,2.6,2.8,3.2],"tickSize":-4,"labels":false,"domain":false,"title":null}},"x2":{"field":"xh"},
  "y":{"field":"yl","type":"quantitative","scale":{"domain":[0,4.4],"nice":false,"zero":false},"axis":{"orient":"left","values":[0.2,0.4,0.6,0.8,1.2,1.4,1.6,1.8,2.2,2.4,2.6,2.8,3.2,3.4,3.6,3.8,4.2],"tickSize":-4,"labels":false,"domain":false,"title":null}},"y2":{"field":"yh"}}},
 {"data":{"values":[{}]},"mark":{"type":"rule","strokeDash":[4,3],"color":"black","strokeWidth":1},
  "encoding":{"x":{"datum":0,"type":"quantitative","axis":null},"x2":{"datum":3.05},"y":{"datum":1,"type":"quantitative","axis":null}}},
 {"data":{"name":"pts"},"transform":[{"filter":"datum.r==0 && datum.c==1 && isValid(datum.ex)"}],"mark":{"type":"errorbar","color":"black","thickness":1.2},
  "encoding":{"x":{"field":"x","type":"quantitative","axis":null},"xError":{"field":"ex"},"y":{"field":"y","type":"quantitative","axis":null}}},
 {"data":{"name":"pts"},"transform":[{"filter":"datum.r==0 && datum.c==1 && isValid(datum.ey)"}],"mark":{"type":"errorbar","color":"black","thickness":1.2},
  "encoding":{"x":{"field":"x","type":"quantitative","axis":null},"y":{"field":"y","type":"quantitative","axis":null},"yError":{"field":"ey"}}},
 {"data":{"name":"pts"},"transform":[{"filter":"datum.r==0 && datum.c==1"}],"mark":{"type":"point","filled":true,"size":85,"strokeWidth":1.5,"opacity":1,"clip":true},
  "encoding":{"x":{"field":"x","type":"quantitative","axis":null},"y":{"field":"y","type":"quantitative","axis":null},
  "shape":{"field":"s","type":"nominal","scale":{"domain":["pi","K","pbar","p"],"range":["circle","square","M0,-1L0.58,0L0,1L-0.58,0Z","M0,-1L0.58,0L0,1L-0.58,0Z"]}},
  "fill":{"field":"s","type":"nominal","scale":{"domain":["pi","K","pbar","p"],"range":["#ff0000","transparent","transparent","#800000"]}},
  "stroke":{"field":"s","type":"nominal","scale":{"domain":["pi","K","pbar","p"],"range":["#ff0000","#0000ff","#006400","#800000"]}}}},
 {"data":{"values":[{}]},"mark":{"type":"text","align":"right","baseline":"middle","font":"Liberation Sans","fontWeight":"bold","fontSize":14},
  "encoding":{"x":{"datum":3.24,"type":"quantitative","axis":null},"y":{"datum":4.05,"type":"quantitative","axis":null},"text":{"value":"10-30%"}}}
]},
{"width":148.5,"height":168,"resolve":{"axis":{"x":"independent","y":"independent"}},"layer":[
 {"data":{"name":"norm"},"transform":[{"filter":"datum.r==0 && datum.c==2"}],"mark":{"type":"rect","fill":null,"stroke":"#9a9a9a","strokeWidth":1},
  "encoding":{"x":{"field":"xl","type":"quantitative","scale":{"domain":[-0.1,3.35],"nice":false,"zero":false},"axis":{"orient":"bottom","values":[0,1,2,3],"tickSize":-8,"labels":false,"domain":false,"title":null}},"x2":{"field":"xh"},
  "y":{"field":"yl","type":"quantitative","scale":{"domain":[0,4.4],"nice":false,"zero":false},"axis":{"orient":"left","values":[0,1,2,3,4],"tickSize":-8,"labels":false,"domain":false,"title":null}},"y2":{"field":"yh"}}},
 {"data":{"name":"pts"},"transform":[{"filter":"datum.r==0 && datum.c==2 && isValid(datum.xl)"}],"mark":{"type":"rect","fill":"#c8c8c8","clip":true},
  "encoding":{"x":{"field":"xl","type":"quantitative","scale":{"domain":[-0.1,3.35],"nice":false,"zero":false},"axis":{"orient":"bottom","values":[0.2,0.4,0.6,0.8,1.2,1.4,1.6,1.8,2.2,2.4,2.6,2.8,3.2],"tickSize":-4,"labels":false,"domain":false,"title":null}},"x2":{"field":"xh"},
  "y":{"field":"yl","type":"quantitative","scale":{"domain":[0,4.4],"nice":false,"zero":false},"axis":{"orient":"left","values":[0.2,0.4,0.6,0.8,1.2,1.4,1.6,1.8,2.2,2.4,2.6,2.8,3.2,3.4,3.6,3.8,4.2],"tickSize":-4,"labels":false,"domain":false,"title":null}},"y2":{"field":"yh"}}},
 {"data":{"values":[{}]},"mark":{"type":"rule","strokeDash":[4,3],"color":"black","strokeWidth":1},
  "encoding":{"x":{"datum":0,"type":"quantitative","axis":null},"x2":{"datum":3.05},"y":{"datum":1,"type":"quantitative","axis":null}}},
 {"data":{"name":"pts"},"transform":[{"filter":"datum.r==0 && datum.c==2 && isValid(datum.ex)"}],"mark":{"type":"errorbar","color":"black","thickness":1.2},
  "encoding":{"x":{"field":"x","type":"quantitative","axis":null},"xError":{"field":"ex"},"y":{"field":"y","type":"quantitative","axis":null}}},
 {"data":{"name":"pts"},"transform":[{"filter":"datum.r==0 && datum.c==2 && isValid(datum.ey)"}],"mark":{"type":"errorbar","color":"black","thickness":1.2},
  "encoding":{"x":{"field":"x","type":"quantitative","axis":null},"y":{"field":"y","type":"quantitative","axis":null},"yError":{"field":"ey"}}},
 {"data":{"name":"pts"},"transform":[{"filter":"datum.r==0 && datum.c==2"}],"mark":{"type":"point","filled":true,"size":85,"strokeWidth":1.5,"opacity":1,"clip":true},
  "encoding":{"x":{"field":"x","type":"quantitative","axis":null},"y":{"field":"y","type":"quantitative","axis":null},
  "shape":{"field":"s","type":"nominal","scale":{"domain":["pi","K","pbar","p"],"range":["circle","square","M0,-1L0.58,0L0,1L-0.58,0Z","M0,-1L0.58,0L0,1L-0.58,0Z"]}},
  "fill":{"field":"s","type":"nominal","scale":{"domain":["pi","K","pbar","p"],"range":["#ff0000","transparent","transparent","#800000"]}},
  "stroke":{"field":"s","type":"nominal","scale":{"domain":["pi","K","pbar","p"],"range":["#ff0000","#0000ff","#006400","#800000"]}}}},
 {"data":{"values":[{}]},"mark":{"type":"text","align":"right","baseline":"middle","font":"Liberation Sans","fontWeight":"bold","fontSize":14},
  "encoding":{"x":{"datum":3.24,"type":"quantitative","axis":null},"y":{"datum":4.05,"type":"quantitative","axis":null},"text":{"value":"30-50%"}}}
]},
{"width":148.5,"height":168,"resolve":{"axis":{"x":"independent","y":"independent"}},"layer":[
 {"data":{"name":"norm"},"transform":[{"filter":"datum.r==0 && datum.c==3"}],"mark":{"type":"rect","fill":null,"stroke":"#9a9a9a","strokeWidth":1},
  "encoding":{"x":{"field":"xl","type":"quantitative","scale":{"domain":[-0.1,3.35],"nice":false,"zero":false},"axis":{"orient":"bottom","values":[0,1,2,3],"tickSize":-8,"labels":false,"domain":false,"title":null}},"x2":{"field":"xh"},
  "y":{"field":"yl","type":"quantitative","scale":{"domain":[0,4.4],"nice":false,"zero":false},"axis":{"orient":"left","values":[0,1,2,3,4],"tickSize":-8,"labels":false,"domain":false,"title":null}},"y2":{"field":"yh"}}},
 {"data":{"name":"pts"},"transform":[{"filter":"datum.r==0 && datum.c==3 && isValid(datum.xl)"}],"mark":{"type":"rect","fill":"#c8c8c8","clip":true},
  "encoding":{"x":{"field":"xl","type":"quantitative","scale":{"domain":[-0.1,3.35],"nice":false,"zero":false},"axis":{"orient":"bottom","values":[0.2,0.4,0.6,0.8,1.2,1.4,1.6,1.8,2.2,2.4,2.6,2.8,3.2],"tickSize":-4,"labels":false,"domain":false,"title":null}},"x2":{"field":"xh"},
  "y":{"field":"yl","type":"quantitative","scale":{"domain":[0,4.4],"nice":false,"zero":false},"axis":{"orient":"left","values":[0.2,0.4,0.6,0.8,1.2,1.4,1.6,1.8,2.2,2.4,2.6,2.8,3.2,3.4,3.6,3.8,4.2],"tickSize":-4,"labels":false,"domain":false,"title":null}},"y2":{"field":"yh"}}},
 {"data":{"values":[{}]},"mark":{"type":"rule","strokeDash":[4,3],"color":"black","strokeWidth":1},
  "encoding":{"x":{"datum":0,"type":"quantitative","axis":null},"x2":{"datum":3.05},"y":{"datum":1,"type":"quantitative","axis":null}}},
 {"data":{"name":"pts"},"transform":[{"filter":"datum.r==0 && datum.c==3 && isValid(datum.ex)"}],"mark":{"type":"errorbar","color":"black","thickness":1.2},
  "encoding":{"x":{"field":"x","type":"quantitative","axis":null},"xError":{"field":"ex"},"y":{"field":"y","type":"quantitative","axis":null}}},
 {"data":{"name":"pts"},"transform":[{"filter":"datum.r==0 && datum.c==3 && isValid(datum.ey)"}],"mark":{"type":"errorbar","color":"black","thickness":1.2},
  "encoding":{"x":{"field":"x","type":"quantitative","axis":null},"y":{"field":"y","type":"quantitative","axis":null},"yError":{"field":"ey"}}},
 {"data":{"name":"pts"},"transform":[{"filter":"datum.r==0 && datum.c==3"}],"mark":{"type":"point","filled":true,"size":85,"strokeWidth":1.5,"opacity":1,"clip":true},
  "encoding":{"x":{"field":"x","type":"quantitative","axis":null},"y":{"field":"y","type":"quantitative","axis":null},
  "shape":{"field":"s","type":"nominal","scale":{"domain":["pi","K","pbar","p"],"range":["circle","square","M0,-1L0.58,0L0,1L-0.58,0Z","M0,-1L0.58,0L0,1L-0.58,0Z"]}},
  "fill":{"field":"s","type":"nominal","scale":{"domain":["pi","K","pbar","p"],"range":["#ff0000","transparent","transparent","#800000"]}},
  "stroke":{"field":"s","type":"nominal","scale":{"domain":["pi","K","pbar","p"],"range":["#ff0000","#0000ff","#006400","#800000"]}}}},
 {"data":{"values":[{}]},"mark":{"type":"text","align":"right","baseline":"middle","font":"Liberation Sans","fontWeight":"bold","fontSize":14},
  "encoding":{"x":{"datum":3.24,"type":"quantitative","axis":null},"y":{"datum":4.05,"type":"quantitative","axis":null},"text":{"value":"50-70%"}}}
]},
{"width":148.5,"height":168,"resolve":{"axis":{"x":"independent","y":"independent"}},"layer":[
 {"data":{"name":"norm"},"transform":[{"filter":"datum.r==1 && datum.c==0"}],"mark":{"type":"rect","fill":null,"stroke":"#9a9a9a","strokeWidth":1},
  "encoding":{"x":{"field":"xl","type":"quantitative","scale":{"domain":[-0.1,3.35],"nice":false,"zero":false},"axis":{"orient":"bottom","values":[0,1,2,3],"tickSize":-8,"labelPadding":12,"domain":false,"title":null}},"x2":{"field":"xh"},
  "y":{"field":"yl","type":"quantitative","scale":{"domain":[0,4.4],"nice":false,"zero":false},"axis":{"orient":"left","values":[0,1,2,3,4],"tickSize":-8,"labelPadding":12,"labelFlush":true,"domain":false,"title":null}},"y2":{"field":"yh"}}},
 {"data":{"name":"pts"},"transform":[{"filter":"datum.r==1 && datum.c==0 && isValid(datum.xl)"}],"mark":{"type":"rect","fill":"#c8c8c8","clip":true},
  "encoding":{"x":{"field":"xl","type":"quantitative","scale":{"domain":[-0.1,3.35],"nice":false,"zero":false},"axis":{"orient":"bottom","values":[0.2,0.4,0.6,0.8,1.2,1.4,1.6,1.8,2.2,2.4,2.6,2.8,3.2],"tickSize":-4,"labels":false,"domain":false,"title":null}},"x2":{"field":"xh"},
  "y":{"field":"yl","type":"quantitative","scale":{"domain":[0,4.4],"nice":false,"zero":false},"axis":{"orient":"left","values":[0.2,0.4,0.6,0.8,1.2,1.4,1.6,1.8,2.2,2.4,2.6,2.8,3.2,3.4,3.6,3.8,4.2],"tickSize":-4,"labels":false,"domain":false,"title":null}},"y2":{"field":"yh"}}},
 {"data":{"values":[{}]},"mark":{"type":"rule","strokeDash":[4,3],"color":"black","strokeWidth":1},
  "encoding":{"x":{"datum":0,"type":"quantitative","axis":null},"x2":{"datum":3.05},"y":{"datum":1,"type":"quantitative","axis":null}}},
 {"data":{"name":"pts"},"transform":[{"filter":"datum.r==1 && datum.c==0 && isValid(datum.ex)"}],"mark":{"type":"errorbar","color":"black","thickness":1.2},
  "encoding":{"x":{"field":"x","type":"quantitative","axis":null},"xError":{"field":"ex"},"y":{"field":"y","type":"quantitative","axis":null}}},
 {"data":{"name":"pts"},"transform":[{"filter":"datum.r==1 && datum.c==0 && isValid(datum.ey)"}],"mark":{"type":"errorbar","color":"black","thickness":1.2},
  "encoding":{"x":{"field":"x","type":"quantitative","axis":null},"y":{"field":"y","type":"quantitative","axis":null},"yError":{"field":"ey"}}},
 {"data":{"name":"pts"},"transform":[{"filter":"datum.r==1 && datum.c==0"}],"mark":{"type":"point","filled":true,"size":85,"strokeWidth":1.5,"opacity":1,"clip":true},
  "encoding":{"x":{"field":"x","type":"quantitative","axis":null},"y":{"field":"y","type":"quantitative","axis":null},
  "shape":{"field":"s","type":"nominal","scale":{"domain":["pi","K","pbar","p"],"range":["circle","square","M0,-1L0.58,0L0,1L-0.58,0Z","M0,-1L0.58,0L0,1L-0.58,0Z"]}},
  "fill":{"field":"s","type":"nominal","scale":{"domain":["pi","K","pbar","p"],"range":["#ff0000","transparent","transparent","#800000"]}},
  "stroke":{"field":"s","type":"nominal","scale":{"domain":["pi","K","pbar","p"],"range":["#ff0000","#0000ff","#006400","#800000"]}}}},
 {"data":{"values":[{}]},"mark":{"type":"rect","fill":null,"stroke":"black","strokeWidth":1.5},
  "encoding":{"x":{"datum":0.2,"type":"quantitative","axis":null},"x2":{"datum":0.9},"y":{"datum":4.22,"type":"quantitative","axis":null},"y2":{"datum":3.8}}},
 {"data":{"values":[{}]},"mark":{"type":"text","align":"center","baseline":"middle","font":"Liberation Sans","fontWeight":"bold","fontSize":16},
  "encoding":{"x":{"datum":0.55,"type":"quantitative","axis":null},"y":{"datum":4.01,"type":"quantitative","axis":null},"text":{"value":"y=3"}}}
]},
{"width":148.5,"height":168,"resolve":{"axis":{"x":"independent","y":"independent"}},"layer":[
 {"data":{"name":"norm"},"transform":[{"filter":"datum.r==1 && datum.c==1"}],"mark":{"type":"rect","fill":null,"stroke":"#9a9a9a","strokeWidth":1},
  "encoding":{"x":{"field":"xl","type":"quantitative","scale":{"domain":[-0.1,3.35],"nice":false,"zero":false},"axis":{"orient":"bottom","values":[0,1,2,3],"tickSize":-8,"labelPadding":12,"domain":false,"title":"P","titleAlign":"left","titleBaseline":"alphabetic","titleX":112,"titleY":31,"titleFontSize":17}},"x2":{"field":"xh"},
  "y":{"field":"yl","type":"quantitative","scale":{"domain":[0,4.4],"nice":false,"zero":false},"axis":{"orient":"left","values":[0,1,2,3,4],"tickSize":-8,"labels":false,"domain":false,"title":null}},"y2":{"field":"yh"}}},
 {"data":{"name":"pts"},"transform":[{"filter":"datum.r==1 && datum.c==1 && isValid(datum.xl)"}],"mark":{"type":"rect","fill":"#c8c8c8","clip":true},
  "encoding":{"x":{"field":"xl","type":"quantitative","scale":{"domain":[-0.1,3.35],"nice":false,"zero":false},"axis":{"orient":"bottom","values":[0.2,0.4,0.6,0.8,1.2,1.4,1.6,1.8,2.2,2.4,2.6,2.8,3.2],"tickSize":-4,"labels":false,"domain":false,"title":"T","titleAlign":"left","titleBaseline":"alphabetic","titleX":124,"titleY":35,"titleFontSize":11}},"x2":{"field":"xh"},
  "y":{"field":"yl","type":"quantitative","scale":{"domain":[0,4.4],"nice":false,"zero":false},"axis":{"orient":"left","values":[0.2,0.4,0.6,0.8,1.2,1.4,1.6,1.8,2.2,2.4,2.6,2.8,3.2,3.4,3.6,3.8,4.2],"tickSize":-4,"labels":false,"domain":false,"title":null}},"y2":{"field":"yh"}}},
 {"data":{"values":[{}]},"mark":{"type":"rule","strokeDash":[4,3],"color":"black","strokeWidth":1},
  "encoding":{"x":{"datum":0,"type":"quantitative","axis":null},"x2":{"datum":3.05},"y":{"datum":1,"type":"quantitative","axis":null}}},
 {"data":{"name":"pts"},"transform":[{"filter":"datum.r==1 && datum.c==1 && isValid(datum.ex)"}],"mark":{"type":"errorbar","color":"black","thickness":1.2},
  "encoding":{"x":{"field":"x","type":"quantitative","axis":null},"xError":{"field":"ex"},"y":{"field":"y","type":"quantitative","axis":null}}},
 {"data":{"name":"pts"},"transform":[{"filter":"datum.r==1 && datum.c==1 && isValid(datum.ey)"}],"mark":{"type":"errorbar","color":"black","thickness":1.2},
  "encoding":{"x":{"field":"x","type":"quantitative","axis":null},"y":{"field":"y","type":"quantitative","axis":null},"yError":{"field":"ey"}}},
 {"data":{"name":"pts"},"transform":[{"filter":"datum.r==1 && datum.c==1"}],"mark":{"type":"point","filled":true,"size":85,"strokeWidth":1.5,"opacity":1,"clip":true},
  "encoding":{"x":{"field":"x","type":"quantitative","axis":null},"y":{"field":"y","type":"quantitative","axis":null},
  "shape":{"field":"s","type":"nominal","scale":{"domain":["pi","K","pbar","p"],"range":["circle","square","M0,-1L0.58,0L0,1L-0.58,0Z","M0,-1L0.58,0L0,1L-0.58,0Z"]}},
  "fill":{"field":"s","type":"nominal","scale":{"domain":["pi","K","pbar","p"],"range":["#ff0000","transparent","transparent","#800000"]}},
  "stroke":{"field":"s","type":"nominal","scale":{"domain":["pi","K","pbar","p"],"range":["#ff0000","#0000ff","#006400","#800000"]}}}}
]},
{"width":148.5,"height":168,"resolve":{"axis":{"x":"independent","y":"independent"}},"layer":[
 {"data":{"name":"norm"},"transform":[{"filter":"datum.r==1 && datum.c==2"}],"mark":{"type":"rect","fill":null,"stroke":"#9a9a9a","strokeWidth":1},
  "encoding":{"x":{"field":"xl","type":"quantitative","scale":{"domain":[-0.1,3.35],"nice":false,"zero":false},"axis":{"orient":"bottom","values":[0,1,2,3],"tickSize":-8,"labelPadding":12,"domain":false,"title":"[GeV/c]","titleAlign":"left","titleBaseline":"alphabetic","titleX":-11,"titleY":31,"titleFontSize":17}},"x2":{"field":"xh"},
  "y":{"field":"yl","type":"quantitative","scale":{"domain":[0,4.4],"nice":false,"zero":false},"axis":{"orient":"left","values":[0,1,2,3,4],"tickSize":-8,"labels":false,"domain":false,"title":null}},"y2":{"field":"yh"}}},
 {"data":{"name":"pts"},"transform":[{"filter":"datum.r==1 && datum.c==2 && isValid(datum.xl)"}],"mark":{"type":"rect","fill":"#c8c8c8","clip":true},
  "encoding":{"x":{"field":"xl","type":"quantitative","scale":{"domain":[-0.1,3.35],"nice":false,"zero":false},"axis":{"orient":"bottom","values":[0.2,0.4,0.6,0.8,1.2,1.4,1.6,1.8,2.2,2.4,2.6,2.8,3.2],"tickSize":-4,"labels":false,"domain":false,"title":null}},"x2":{"field":"xh"},
  "y":{"field":"yl","type":"quantitative","scale":{"domain":[0,4.4],"nice":false,"zero":false},"axis":{"orient":"left","values":[0.2,0.4,0.6,0.8,1.2,1.4,1.6,1.8,2.2,2.4,2.6,2.8,3.2,3.4,3.6,3.8,4.2],"tickSize":-4,"labels":false,"domain":false,"title":null}},"y2":{"field":"yh"}}},
 {"data":{"values":[{}]},"mark":{"type":"rule","strokeDash":[4,3],"color":"black","strokeWidth":1},
  "encoding":{"x":{"datum":0,"type":"quantitative","axis":null},"x2":{"datum":3.05},"y":{"datum":1,"type":"quantitative","axis":null}}},
 {"data":{"name":"pts"},"transform":[{"filter":"datum.r==1 && datum.c==2 && isValid(datum.ex)"}],"mark":{"type":"errorbar","color":"black","thickness":1.2},
  "encoding":{"x":{"field":"x","type":"quantitative","axis":null},"xError":{"field":"ex"},"y":{"field":"y","type":"quantitative","axis":null}}},
 {"data":{"name":"pts"},"transform":[{"filter":"datum.r==1 && datum.c==2 && isValid(datum.ey)"}],"mark":{"type":"errorbar","color":"black","thickness":1.2},
  "encoding":{"x":{"field":"x","type":"quantitative","axis":null},"y":{"field":"y","type":"quantitative","axis":null},"yError":{"field":"ey"}}},
 {"data":{"name":"pts"},"transform":[{"filter":"datum.r==1 && datum.c==2"}],"mark":{"type":"point","filled":true,"size":85,"strokeWidth":1.5,"opacity":1,"clip":true},
  "encoding":{"x":{"field":"x","type":"quantitative","axis":null},"y":{"field":"y","type":"quantitative","axis":null},
  "shape":{"field":"s","type":"nominal","scale":{"domain":["pi","K","pbar","p"],"range":["circle","square","M0,-1L0.58,0L0,1L-0.58,0Z","M0,-1L0.58,0L0,1L-0.58,0Z"]}},
  "fill":{"field":"s","type":"nominal","scale":{"domain":["pi","K","pbar","p"],"range":["#ff0000","transparent","transparent","#800000"]}},
  "stroke":{"field":"s","type":"nominal","scale":{"domain":["pi","K","pbar","p"],"range":["#ff0000","#0000ff","#006400","#800000"]}}}}
]},
{"width":148.5,"height":168,"resolve":{"axis":{"x":"independent","y":"independent"}},"layer":[
 {"data":{"name":"norm"},"transform":[{"filter":"datum.r==1 && datum.c==3"}],"mark":{"type":"rect","fill":null,"stroke":"#9a9a9a","strokeWidth":1},
  "encoding":{"x":{"field":"xl","type":"quantitative","scale":{"domain":[-0.1,3.35],"nice":false,"zero":false},"axis":{"orient":"bottom","values":[0,1,2,3],"tickSize":-8,"labelPadding":12,"domain":false,"title":null}},"x2":{"field":"xh"},
  "y":{"field":"yl","type":"quantitative","scale":{"domain":[0,4.4],"nice":false,"zero":false},"axis":{"orient":"left","values":[0,1,2,3,4],"tickSize":-8,"labels":false,"domain":false,"title":null}},"y2":{"field":"yh"}}},
 {"data":{"name":"pts"},"transform":[{"filter":"datum.r==1 && datum.c==3 && isValid(datum.xl)"}],"mark":{"type":"rect","fill":"#c8c8c8","clip":true},
  "encoding":{"x":{"field":"xl","type":"quantitative","scale":{"domain":[-0.1,3.35],"nice":false,"zero":false},"axis":{"orient":"bottom","values":[0.2,0.4,0.6,0.8,1.2,1.4,1.6,1.8,2.2,2.4,2.6,2.8,3.2],"tickSize":-4,"labels":false,"domain":false,"title":null}},"x2":{"field":"xh"},
  "y":{"field":"yl","type":"quantitative","scale":{"domain":[0,4.4],"nice":false,"zero":false},"axis":{"orient":"left","values":[0.2,0.4,0.6,0.8,1.2,1.4,1.6,1.8,2.2,2.4,2.6,2.8,3.2,3.4,3.6,3.8,4.2],"tickSize":-4,"labels":false,"domain":false,"title":null}},"y2":{"field":"yh"}}},
 {"data":{"values":[{}]},"mark":{"type":"rule","strokeDash":[4,3],"color":"black","strokeWidth":1},
  "encoding":{"x":{"datum":0,"type":"quantitative","axis":null},"x2":{"datum":3.05},"y":{"datum":1,"type":"quantitative","axis":null}}},
 {"data":{"name":"pts"},"transform":[{"filter":"datum.r==1 && datum.c==3 && isValid(datum.ex)"}],"mark":{"type":"errorbar","color":"black","thickness":1.2},
  "encoding":{"x":{"field":"x","type":"quantitative","axis":null},"xError":{"field":"ex"},"y":{"field":"y","type":"quantitative","axis":null}}},
 {"data":{"name":"pts"},"transform":[{"filter":"datum.r==1 && datum.c==3 && isValid(datum.ey)"}],"mark":{"type":"errorbar","color":"black","thickness":1.2},
  "encoding":{"x":{"field":"x","type":"quantitative","axis":null},"y":{"field":"y","type":"quantitative","axis":null},"yError":{"field":"ey"}}},
 {"data":{"name":"pts"},"transform":[{"filter":"datum.r==1 && datum.c==3"}],"mark":{"type":"point","filled":true,"size":85,"strokeWidth":1.5,"opacity":1,"clip":true},
  "encoding":{"x":{"field":"x","type":"quantitative","axis":null},"y":{"field":"y","type":"quantitative","axis":null},
  "shape":{"field":"s","type":"nominal","scale":{"domain":["pi","K","pbar","p"],"range":["circle","square","M0,-1L0.58,0L0,1L-0.58,0Z","M0,-1L0.58,0L0,1L-0.58,0Z"]}},
  "fill":{"field":"s","type":"nominal","scale":{"domain":["pi","K","pbar","p"],"range":["#ff0000","transparent","transparent","#800000"]}},
  "stroke":{"field":"s","type":"nominal","scale":{"domain":["pi","K","pbar","p"],"range":["#ff0000","#0000ff","#006400","#800000"]}}}}
]}
]
}
